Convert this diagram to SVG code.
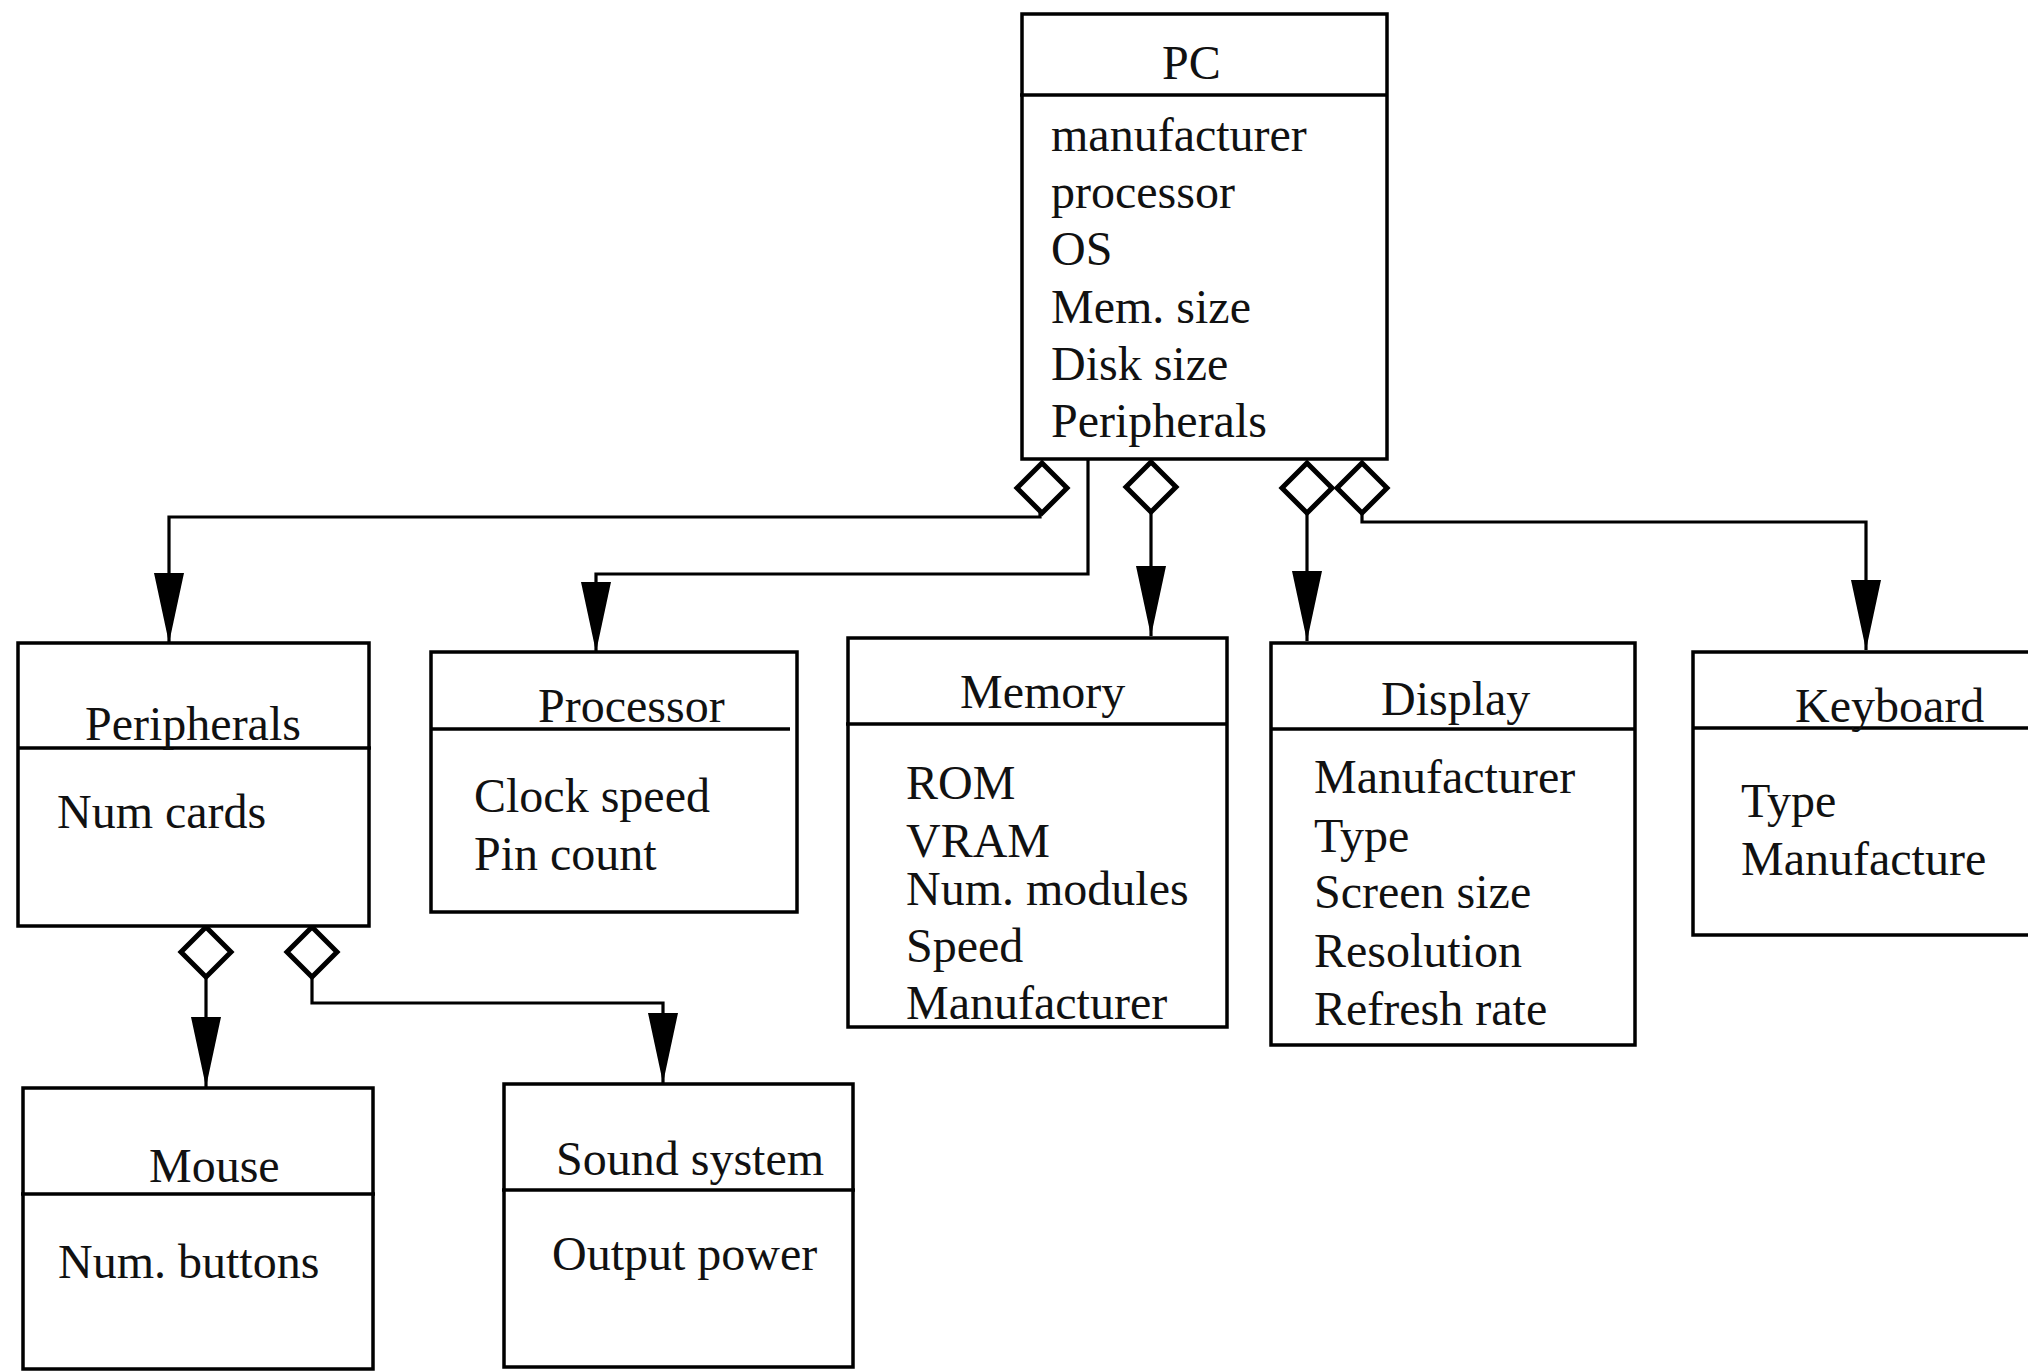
<svg xmlns="http://www.w3.org/2000/svg" width="2028" height="1371" viewBox="0 0 2028 1371">
<style>
.box{fill:#fff;stroke:#000;stroke-width:3.5}
.div{stroke:#000;stroke-width:3.5}
.t{font-family:"Liberation Serif","Times New Roman",serif;font-size:48px;fill:#111}
.c{fill:none;stroke:#000;stroke-width:3.2}
.dia{fill:#fff;stroke:#000;stroke-width:5}
</style>
<defs>
<marker id="arr" markerUnits="userSpaceOnUse" viewBox="0 -15 70 30" refX="70" refY="0" markerWidth="70" markerHeight="30" orient="auto">
<path d="M0,-15 L70,0 L0,15 z" fill="#000"/>
</marker>
<polygon id="diamond" points="0,-25 25,0 0,25 -25,0"/>
</defs>
<rect width="2028" height="1371" fill="#fff"/>

<g id="connectors">
<path class="c" d="M1040,512 V517 H169 V643" marker-end="url(#arr)"/>
<path class="c" d="M1088,459 V574 H596 V652" marker-end="url(#arr)"/>
<path class="c" d="M1151,512 V636" marker-end="url(#arr)"/>
<path class="c" d="M1307,513 V641" marker-end="url(#arr)"/>
<path class="c" d="M1362,513 V522 H1866 V650" marker-end="url(#arr)"/>
<path class="c" d="M206,977 V1087" marker-end="url(#arr)"/>
<path class="c" d="M312,977 V1003 H663 V1083" marker-end="url(#arr)"/>
<use href="#diamond" class="dia" x="1042" y="488"/>
<use href="#diamond" class="dia" x="1151" y="487"/>
<use href="#diamond" class="dia" x="1307" y="488"/>
<use href="#diamond" class="dia" x="1362" y="488"/>
<use href="#diamond" class="dia" x="206" y="952"/>
<use href="#diamond" class="dia" x="312" y="952"/>
</g>

<g id="pc">
<rect class="box" x="1022" y="14" width="365" height="445"/>
<line class="div" x1="1020" y1="95" x2="1387" y2="95"/>
<text class="t" x="1162" y="79">PC</text>
<text class="t" x="1051" y="151">manufacturer</text>
<text class="t" x="1051" y="208">processor</text>
<text class="t" x="1051" y="265">OS</text>
<text class="t" x="1051" y="323">Mem. size</text>
<text class="t" x="1051" y="380">Disk size</text>
<text class="t" x="1051" y="437">Peripherals</text>
</g>

<g id="peripherals">
<rect class="box" x="18" y="643" width="351" height="283"/>
<line class="div" x1="18" y1="748" x2="371" y2="748"/>
<text class="t" x="85" y="740">Peripherals</text>
<text class="t" x="57" y="828">Num cards</text>
</g>

<g id="processor">
<rect class="box" x="431" y="652" width="366" height="260"/>
<line class="div" x1="431" y1="729" x2="790" y2="729"/>
<text class="t" x="538" y="722">Processor</text>
<text class="t" x="474" y="812">Clock speed</text>
<text class="t" x="474" y="870">Pin count</text>
</g>

<g id="memory">
<rect class="box" x="848" y="638" width="379" height="389"/>
<line class="div" x1="846" y1="724" x2="1227" y2="724"/>
<text class="t" x="960" y="708">Memory</text>
<text class="t" x="906" y="799">ROM</text>
<text class="t" x="906" y="857">VRAM</text>
<text class="t" x="906" y="905">Num. modules</text>
<text class="t" x="906" y="962">Speed</text>
<text class="t" x="906" y="1019">Manufacturer</text>
</g>

<g id="display">
<rect class="box" x="1271" y="643" width="364" height="402"/>
<line class="div" x1="1271" y1="729" x2="1635" y2="729"/>
<text class="t" x="1381" y="715">Display</text>
<text class="t" x="1314" y="793">Manufacturer</text>
<text class="t" x="1314" y="852">Type</text>
<text class="t" x="1314" y="908">Screen size</text>
<text class="t" x="1314" y="967">Resolution</text>
<text class="t" x="1314" y="1025">Refresh rate</text>
</g>

<g id="keyboard">
<rect class="box" x="1693" y="652" width="345" height="283"/>
<line class="div" x1="1693" y1="728" x2="2028" y2="728"/>
<text class="t" x="1795" y="722">Keyboard</text>
<text class="t" x="1741" y="817">Type</text>
<text class="t" x="1741" y="875">Manufacture</text>
</g>

<g id="mouse">
<rect class="box" x="23" y="1088" width="350" height="281"/>
<line class="div" x1="21" y1="1194" x2="375" y2="1194"/>
<text class="t" x="149" y="1182">Mouse</text>
<text class="t" x="58" y="1278">Num. buttons</text>
</g>

<g id="sound-system">
<rect class="box" x="504" y="1084" width="349" height="283"/>
<line class="div" x1="502" y1="1190" x2="855" y2="1190"/>
<text class="t" x="556" y="1175">Sound system</text>
<text class="t" x="552" y="1270">Output power</text>
</g>
</svg>
